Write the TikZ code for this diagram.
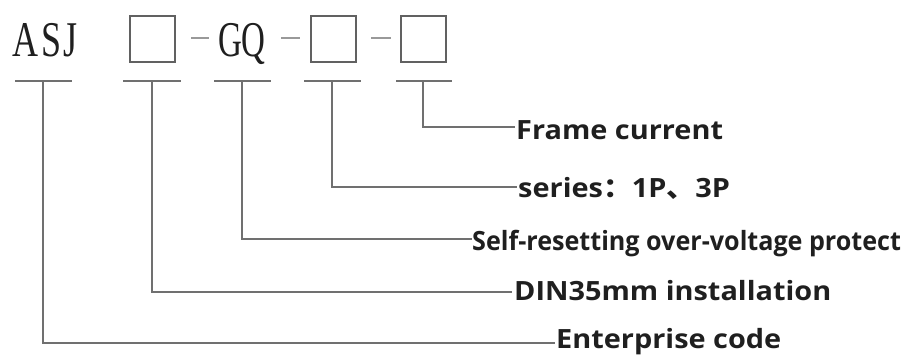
\documentclass[tikz,border=0pt]{standalone}
\usepackage{fontspec}
\setmainfont{Liberation Serif}
\newfontfamily\labfont{Open Sans}
\newfontfamily\cjk{Noto Sans CJK SC}
\tikzset{
  ln/.style={draw=black!56, line width=1.4pt},
  dashln/.style={draw=black!40, line width=1.8pt},
  codebox/.style={draw=black!62, line width=1.2pt, minimum width=45pt, minimum height=46pt, inner sep=0pt},
  code/.style={font=\fontsize{50}{50}\selectfont, text=black!88, inner sep=0pt, anchor=base west},
  lab/.style={font=\labfont\bfseries\fontsize{26.5}{27}\selectfont, text=black!88, inner sep=0pt, anchor=base west, xscale=1.09},
}
\begin{document}
\begin{tikzpicture}[x=1pt,y=-1pt]
\useasboundingbox (0,0) rectangle (909,354);
% code line
\node[code, xscale=0.72] (asj) at (12,56) {A\kern4pt S\kern3pt J};
\node[codebox] (b1) at (152.5,39) {};
\node[code, xscale=0.66] (gq) at (218,56) {GQ};
\node[codebox] (b2) at (333.5,39) {};
\node[codebox] (b3) at (423.5,39) {};
\draw[dashln] (191,38) -- (209,38);
\draw[dashln] (281,38) -- (300,38);
\draw[dashln] (371,38) -- (391,38);
% T bars
\coordinate (t1) at (43,81);
\coordinate (t2) at (152,81);
\coordinate (t3) at (242,81);
\coordinate (t4) at (332,81);
\coordinate (t5) at (423,81);
\draw[ln] (15,81) -- (72,81);
\draw[ln] (123,81) -- (181,81);
\draw[ln] (214,81) -- (271,81);
\draw[ln] (304,81) -- (361,81);
\draw[ln] (396,81) -- (452,81);
% labels
\node[lab] (l5) at (516,139) {Frame current};
\node[lab] (l4) at (518,197) {series\cjk\bfseries：\labfont\bfseries 1P\cjk\bfseries 、\labfont\bfseries 3P};
\node[lab, xscale=0.87] (l3) at (472,250) {Self-resetting over-voltage protect};
\node[lab] (l2) at (514,300) {DIN35mm installation};
\node[lab] (l1) at (556,348) {Enterprise code};
\coordinate (e5) at (515,127);
\coordinate (e4) at (517,187);
\coordinate (e3) at (472,239);
\coordinate (e2) at (512,292);
\coordinate (e1) at (555,343);
\draw[ln] (t5) |- (e5);
\draw[ln] (t4) |- (e4);
\draw[ln] (t3) |- (e3);
\draw[ln] (t2) |- (e2);
\draw[ln] (t1) |- (e1);
\end{tikzpicture}
\end{document}
